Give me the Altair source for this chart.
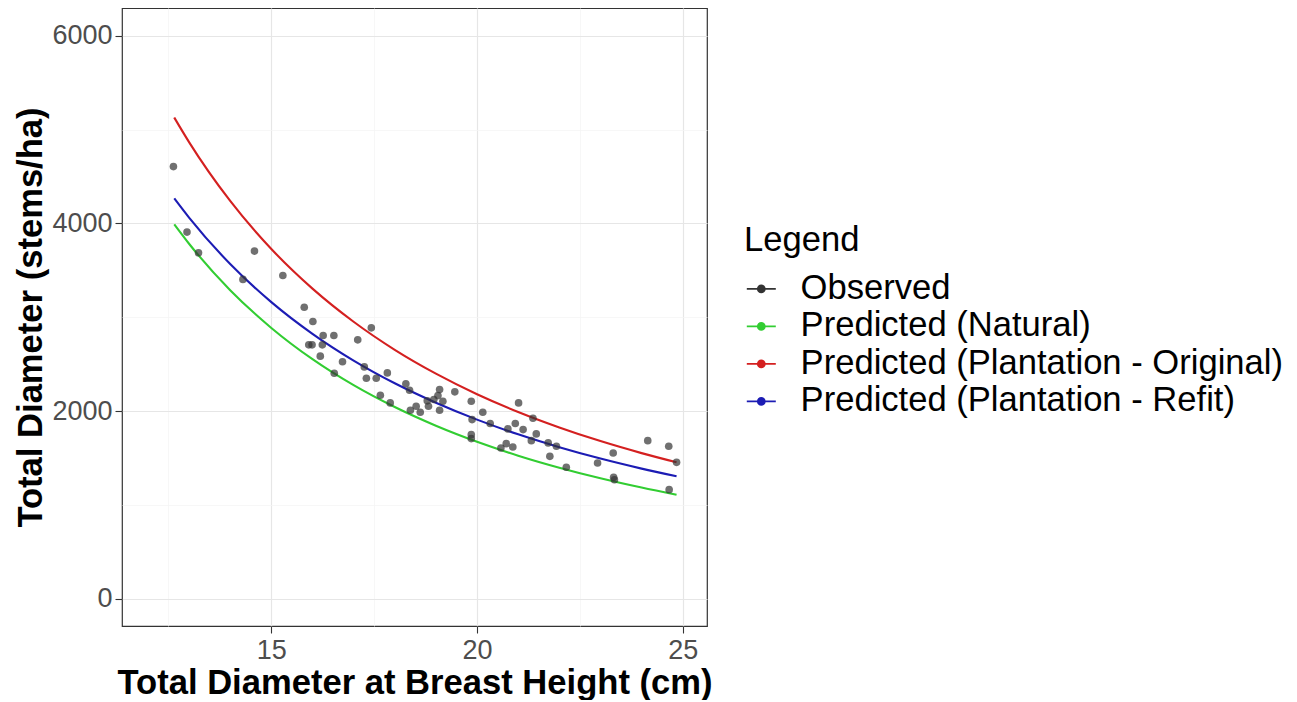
import altair as alt
import pandas as pd

# observed stands
obs_dbh = [12.62, 12.95, 13.23, 14.31, 14.59, 15.28, 15.80, 16.01, 16.26, 16.52,
           15.91, 15.99, 16.24, 16.19, 17.10, 17.43, 16.73, 16.53, 17.26, 17.31,
           17.55, 17.82, 17.65, 17.89, 18.27, 18.36, 18.38, 18.52, 18.62, 18.79,
           18.82, 18.95, 19.05, 19.09, 19.17, 19.09, 19.46, 19.86, 19.88, 19.86,
           19.86, 20.14, 20.32, 21.01, 20.75, 20.93, 21.12, 21.36, 21.44, 21.32,
           20.58, 20.71, 20.87, 21.73, 21.93, 21.77, 22.17, 22.93, 23.31, 23.32,
           23.34, 24.15, 24.66, 24.85, 24.67]
obs_density = [4605, 3907, 3687, 3403, 3705, 3445, 3107, 2955, 2805, 2805,
               2706, 2706, 2706, 2585, 2759, 2887, 2525, 2403, 2471, 2350,
               2350, 2407, 2169, 2087, 2290, 2222, 2009, 2051, 1987, 2109,
               2051, 2123, 2165, 2229, 2105, 2009, 2205, 2105, 1909, 1749,
               1707, 1987, 1867, 2087, 1810, 1867, 1803, 1923, 1757, 1685,
               1607, 1653, 1618, 1661, 1625, 1518, 1401, 1447, 1554, 1294,
               1269, 1685, 1625, 1454, 1163]

# predicted curves
pred_dbh = [12.64, 13, 14, 15, 16, 17, 18, 19, 20, 21, 22, 23, 24, 24.85]
pred_natural = [3990, 3783, 3288, 2886, 2553, 2276, 2043, 1844, 1673, 1525, 1397, 1284, 1185, 1109]
pred_original = [5128, 4866, 4239, 3727, 3305, 2952, 2653, 2399, 2180, 1991, 1826, 1680, 1552, 1454]
pred_refit = [4267, 4062, 3567, 3161, 2823, 2538, 2296, 2089, 1909, 1752, 1615, 1494, 1387, 1305]

series = ["Observed", "Predicted (Natural)", "Predicted (Plantation - Original)",
          "Predicted (Plantation - Refit)"]
colors = ["#333333", "#32cd32", "#d42020", "#1c1cb4"]

x_ticks = [12.5, 15, 17.5, 20, 22.5, 25]
y_ticks = [0, 1000, 2000, 3000, 4000, 5000, 6000]

obs = pd.DataFrame({"dbh": obs_dbh, "density": obs_density, "series": series[0]})
pred = pd.concat([
    pd.DataFrame({"dbh": pred_dbh, "density": vals, "series": name})
    for name, vals in zip(series[1:], [pred_natural, pred_original, pred_refit])
])

FONT = "Liberation Sans"

x = alt.X("dbh:Q", title="Total Diameter at Breast Height (cm)",
          scale=alt.Scale(domain=[11.37, 25.59], nice=False, zero=False),
          axis=alt.Axis(values=x_ticks,
                        labelExpr="datum.value % 5 === 0 ? datum.label : ''",
                        gridColor={"condition": {"test": "datum.value % 5 !== 0", "value": "#f3f3f3"}, "value": "#e6e6e6"},
                        gridWidth={"condition": {"test": "datum.value % 5 !== 0", "value": 0.7}, "value": 1.2},
                        tickOpacity={"condition": {"test": "datum.value % 5 !== 0", "value": 0}, "value": 1},
                        labelPadding=4, titlePadding=3))
y = alt.Y("density:Q", title="Total Diameter (stems/ha)",
          scale=alt.Scale(domain=[-290, 6295], nice=False, zero=False),
          axis=alt.Axis(values=y_ticks,
                        labelExpr="datum.value % 2000 === 0 ? datum.label : ''",
                        format="d",
                        gridColor={"condition": {"test": "datum.value % 2000 !== 0", "value": "#f3f3f3"}, "value": "#e6e6e6"},
                        gridWidth={"condition": {"test": "datum.value % 2000 !== 0", "value": 0.7}, "value": 1.2},
                        tickOpacity={"condition": {"test": "datum.value % 2000 !== 0", "value": 0}, "value": 1},
                        labelPadding=3, titlePadding=3))

color = alt.Color("series:N", title="Legend",
                  scale=alt.Scale(domain=series, range=colors),
                  legend=alt.Legend(orient="none", legendX=622, legendY=216))

lines = alt.Chart(pred).mark_line(strokeWidth=2.1, interpolate="monotone").encode(
    x=x, y=y, color=color)
points = alt.Chart(obs).mark_circle(size=58, opacity=0.7).encode(
    x=x, y=y, color=color)

chart = alt.layer(lines, points).properties(
    width=585, height=618,
    autosize=alt.AutoSizeParams(type="none"),
    padding={"left": 114, "top": 0, "right": 582, "bottom": 74},
).configure_view(
    stroke="#333333", strokeWidth=1.2
).configure_axis(
    domain=False, grid=True, tickColor="#333333", tickWidth=1.1, tickSize=7,
    labelFont=FONT, labelFontSize=27, labelColor="#4d4d4d",
    titleFont=FONT, titleFontSize=34.6, titleFontWeight="bold", titleColor="#000000",
).configure_legend(
    titleFont=FONT, titleFontSize=34.6, titleFontWeight="normal", titleColor="#000000",
    labelFont=FONT, labelFontSize=34.6, labelColor="#000000", labelLimit=0,
    symbolType="M-1,0H1M0.24,0A0.24,0.24,0,1,1,-0.24,0A0.24,0.24,0,1,1,0.24,0Z",
    symbolSize=841, symbolStrokeWidth=1.8, symbolOpacity=1,
    titlePadding=13, rowPadding=2.5, labelOffset=22, padding=0,
)

chart.save("out.html", embed_options={"renderer": "svg", "actions": False})
